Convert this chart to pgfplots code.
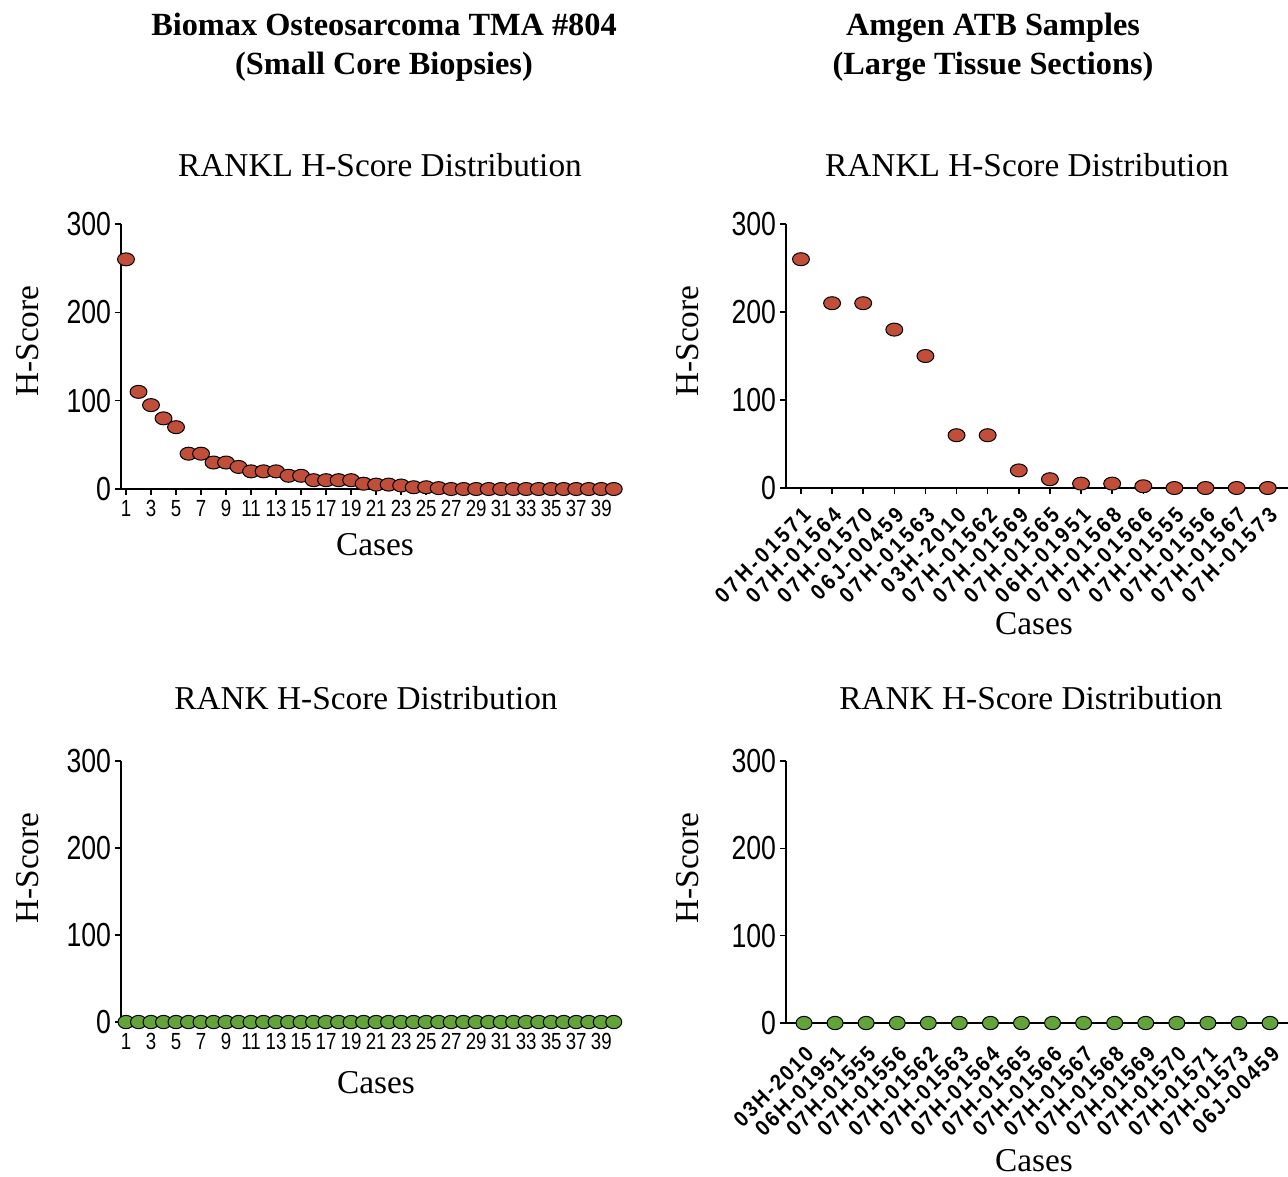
\documentclass[border=0pt]{standalone}
\usepackage{fontspec}
\setmainfont{Liberation Serif}
\newfontfamily\ticksf[FakeStretch=0.8]{Liberation Sans}
\newfontfamily\rotsf[LetterSpace=15, FakeStretch=0.9]{Liberation Sans}
\newfontfamily\rotsfb[LetterSpace=10, FakeStretch=0.9]{Liberation Sans}
\usepackage{pgfplots}
\pgfplotsset{compat=1.18}
\definecolor{redd}{RGB}{192,78,56}
\definecolor{grn}{RGB}{98,163,58}
\pgfplotsset{
  hs/.style={
    scale only axis,
    axis x line*=bottom, axis y line*=left,
    x axis line style={-}, y axis line style={-},
    axis line style={line width=0.45pt},
    ymin=0, ymax=300, ytick={0,100,200,300},
    tick align=outside, major tick length=1.8pt,
    tick style={black, line width=0.45pt},
    clip=false,
    /pgf/number format/assume math mode=true,
    yticklabel style={font=\fontsize{10}{10}\ticksf, inner sep=1pt},
    only marks,
  },
  leftx/.style={xmin=0.6, xmax=40.5, xtick={1,3,...,39},
    xticklabel style={font=\fontsize{7}{7}\ticksf, inner sep=1.5pt}},
  redm/.style={mark=*, mark size=1.95pt, mark options={xscale=1.3, fill=redd, draw=black, line width=0.3pt}},
  grnm/.style={mark=*, mark size=2pt, mark options={xscale=1.2, fill=grn, draw=black, line width=0.3pt}},
  rotx/.style={xtick={1,...,16},
    xticklabel style={rotate=45, anchor=north east, inner sep=2.2pt, font=\fontsize{6.6}{6.6}\rotsf\bfseries}},
}
\begin{document}
\begin{tikzpicture}
\useasboundingbox (0,0) rectangle (1288*0.3pt,-1176*0.3pt);
% headers
\node[font=\fontsize{9.7}{11.7}\selectfont\bfseries, align=center] at (384*0.3pt,-47*0.3pt) {Biomax Osteosarcoma TMA \#804\\(Small Core Biopsies)};
\node[font=\fontsize{9.7}{11.7}\selectfont\bfseries, align=center] at (993*0.3pt,-47*0.3pt) {Amgen ATB Samples\\(Large Tissue Sections)};
% subtitles
\node[font=\fontsize{10}{10}\selectfont] at (380*0.3pt,-165*0.3pt) {RANKL H-Score Distribution};
\node[font=\fontsize{10}{10}\selectfont] at (1027*0.3pt,-165*0.3pt) {RANKL H-Score Distribution};
\node[font=\fontsize{10}{10}\selectfont] at (366*0.3pt,-698*0.3pt) {RANK H-Score Distribution};
\node[font=\fontsize{10}{10}\selectfont] at (1031*0.3pt,-698*0.3pt) {RANK H-Score Distribution};
% y labels
\node[font=\fontsize{10}{10}\selectfont, rotate=90] at (28*0.3pt,-341*0.3pt) {H-Score};
\node[font=\fontsize{10}{10}\selectfont, rotate=90] at (28*0.3pt,-868*0.3pt) {H-Score};
\node[font=\fontsize{10}{10}\selectfont, rotate=90] at (688*0.3pt,-341*0.3pt) {H-Score};
\node[font=\fontsize{10}{10}\selectfont, rotate=90] at (688*0.3pt,-868*0.3pt) {H-Score};
% x labels
\node[font=\fontsize{10}{10}\selectfont] at (375*0.3pt,-545*0.3pt) {Cases};
\node[font=\fontsize{10}{10}\selectfont] at (376*0.3pt,-1083*0.3pt) {Cases};
\node[font=\fontsize{10}{10}\selectfont] at (1034*0.3pt,-624*0.3pt) {Cases};
\node[font=\fontsize{10}{10}\selectfont] at (1034*0.3pt,-1161*0.3pt) {Cases};

% top-left
\begin{axis}[hs, leftx, at={(121*0.3pt,-489*0.3pt)}, anchor=south west, width=499*0.3pt, height=265*0.3pt]
\addplot[redm] coordinates {(1,260)(2,110)(3,95)(4,80)(5,70)(6,40)(7,40)(8,30)(9,30)(10,25)
(11,20)(12,20)(13,20)(14,15)(15,15)(16,10)(17,10)(18,10)(19,10)(20,6)
(21,5)(22,5)(23,4)(24,2)(25,2)(26,1)(27,0)(28,0)(29,0)(30,0)
(31,0)(32,0)(33,0)(34,0)(35,0)(36,0)(37,0)(38,0)(39,0)(40,0)};
\end{axis}

% top-right
\begin{axis}[hs, rotx, at={(786*0.3pt,-488*0.3pt)}, anchor=south west, width=502*0.3pt, height=264*0.3pt,
  xmin=0.52, xmax=16.65,
  xticklabels={07H-01571,07H-01564,07H-01570,06J-00459,07H-01563,03H-2010,07H-01562,07H-01569,07H-01565,06H-01951,07H-01568,07H-01566,07H-01555,07H-01556,07H-01567,07H-01573}]
\addplot[redm] coordinates {(1,260)(2,210)(3,210)(4,180)(5,150)(6,60)(7,60)(8,20)(9,10)(10,5)(11,5)(12,2)(13,0)(14,0)(15,0)(16,0)};
\end{axis}

% bottom-right
\begin{axis}[hs, rotx, at={(786*0.3pt,-1023*0.3pt)}, anchor=south west, width=502*0.3pt, height=262*0.3pt,
  xmin=0.42, xmax=16.58,
  xticklabel style={font=\fontsize{6.6}{6.6}\rotsfb\bfseries, inner sep=3.2pt},
  xticklabels={03H-2010,06H-01951,07H-01555,07H-01556,07H-01562,07H-01563,07H-01564,07H-01565,07H-01566,07H-01567,07H-01568,07H-01569,07H-01570,07H-01571,07H-01573,06J-00459}]
\addplot[grnm] coordinates {(1,0)(2,0)(3,0)(4,0)(5,0)(6,0)(7,0)(8,0)(9,0)(10,0)(11,0)(12,0)(13,0)(14,0)(15,0)(16,0)};
\end{axis}

% bottom-left
\begin{axis}[hs, leftx, at={(121*0.3pt,-1022*0.3pt)}, anchor=south west, width=499*0.3pt, height=261*0.3pt]
\addplot[grnm] coordinates {(1,0)(2,0)(3,0)(4,0)(5,0)(6,0)(7,0)(8,0)(9,0)(10,0)
(11,0)(12,0)(13,0)(14,0)(15,0)(16,0)(17,0)(18,0)(19,0)(20,0)
(21,0)(22,0)(23,0)(24,0)(25,0)(26,0)(27,0)(28,0)(29,0)(30,0)
(31,0)(32,0)(33,0)(34,0)(35,0)(36,0)(37,0)(38,0)(39,0)(40,0)};
\end{axis}
\end{tikzpicture}
\end{document}
